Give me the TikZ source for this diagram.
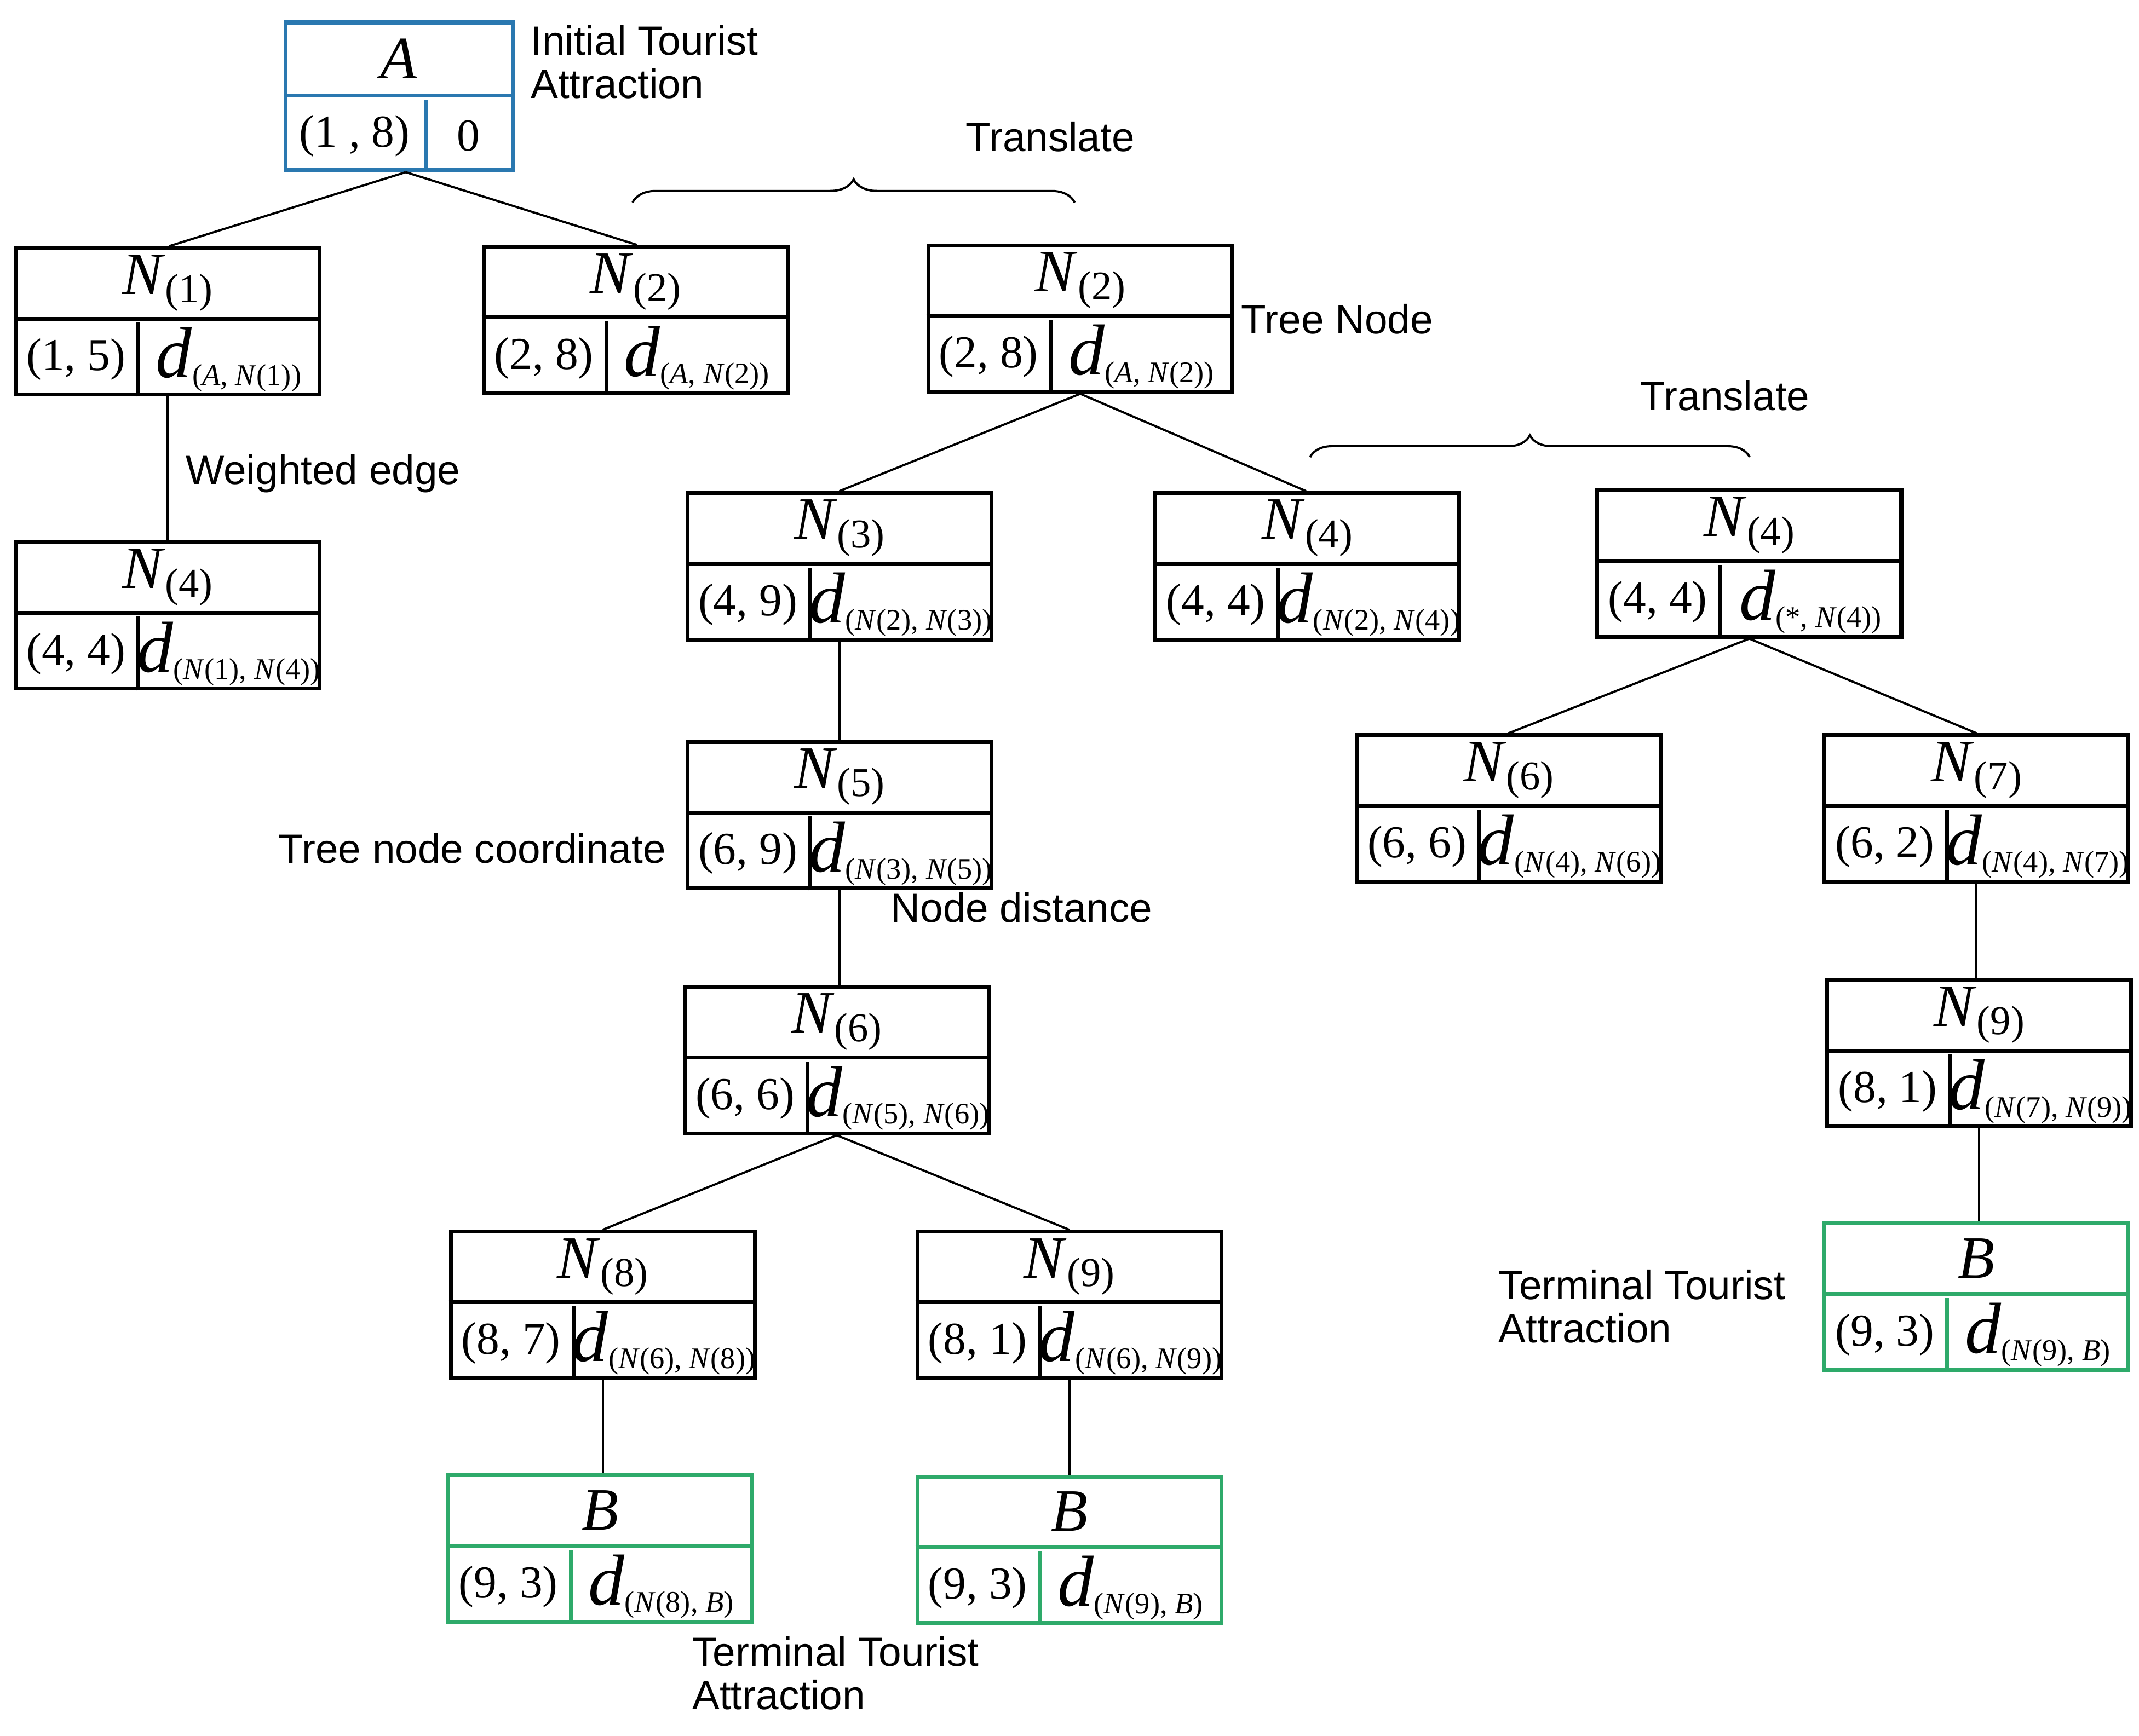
\documentclass[tikz,border=0pt]{standalone}
\usepackage{fontspec}
\setmainfont{Liberation Serif}
\newfontfamily\lab{Liberation Sans}
\usetikzlibrary{calc,decorations.pathreplacing}
\definecolor{bl}{HTML}{2A78B0}
\definecolor{gr}{HTML}{2EAA6A}
\tikzset{box/.style={draw,line width=0.8pt,minimum width=2.22cm,minimum height=1.07cm,inner sep=0pt},
 bw/.style={line width=0.8pt},
 ed/.style={line width=0.45pt},
 lb/.style={font=\lab\fontsize{8.5}{10}\selectfont,inner sep=0pt,align=left},
 ttl/.style={font=\fontsize{12.5}{14}\selectfont,inner sep=0pt},
 crd/.style={font=\fontsize{9.5}{11}\selectfont,inner sep=0pt}}
\newcommand\dd[1]{{\fontsize{15}{15}\selectfont\textit{d}}\raisebox{-0.35ex}{\fontsize{6.2}{7}\selectfont #1}}
\newcommand\NN[1]{\textit{N}\raisebox{-0.3ex}{\fontsize{8.5}{9}\selectfont(#1)}}
\newcommand\nn[1]{\textit{N}(#1)}
\newcommand\tnode[7]{%
\node[box,draw=#7,anchor=north west] (#1) at (#2*0.01,-#3*0.01) {};
\draw[#7,bw] ($(#1.north west)+(0,-0.53)$) -- ($(#1.north east)+(0,-0.53)$);
\draw[#7,bw] ($(#1.south west)+(0.91,0)$) -- ++(0,0.54);
\node[ttl] (#1t) at ($(#1.north)+(0,-0.27)$) {#4};
\node[crd] (#1c) at ($(#1.south west)+(0.455,0.27)$) {#5};
\node[crd] (#1d) at ($(#1.south west)+(1.57,0.27)$) {#6};}
\begin{document}
\begin{tikzpicture}
\useasboundingbox (0,0) rectangle (15.624,-12.68);
% A
\node[box,draw=bl,minimum width=1.66cm,minimum height=1.08cm,anchor=north west] (A) at (2.07,-0.15) {};
\draw[bl,bw] ($(A.north west)+(0,-0.55)$) -- ($(A.north east)+(0,-0.55)$);
\draw[bl,bw] ($(A.south west)+(1.04,0)$) -- ++(0,0.53);
\node[ttl] (At) at ($(A.north)+(0,-0.28)$) {\textit{A}};
\node[crd] (Ac) at ($(A.south west)+(0.52,0.265)$) {(1 , 8)};
\node[crd] (Ad) at ($(A.south west)+(1.35,0.265)$) {0};
\tnode{n1}{10}{180}{\NN{1}}{(1, 5)}{\dd{(\textit{A}, \nn{1})}}{black}
\tnode{n2a}{352}{179}{\NN{2}}{(2, 8)}{\dd{(\textit{A}, \nn{2})}}{black}
\tnode{n2b}{677}{178}{\NN{2}}{(2, 8)}{\dd{(\textit{A}, \nn{2})}}{black}
\tnode{n4a}{10}{395}{\NN{4}}{(4, 4)}{\dd{(\nn{1}, \nn{4})}}{black}
\tnode{n3}{501}{359}{\NN{3}}{(4, 9)}{\dd{(\nn{2}, \nn{3})}}{black}
\tnode{n4b}{843}{359}{\NN{4}}{(4, 4)}{\dd{(\nn{2}, \nn{4})}}{black}
\tnode{n4c}{1166}{357}{\NN{4}}{(4, 4)}{\dd{(*, \nn{4})}}{black}
\tnode{n5}{501}{541}{\NN{5}}{(6, 9)}{\dd{(\nn{3}, \nn{5})}}{black}
\tnode{n6a}{499}{720}{\NN{6}}{(6, 6)}{\dd{(\nn{5}, \nn{6})}}{black}
\tnode{n6b}{990}{536}{\NN{6}}{(6, 6)}{\dd{(\nn{4}, \nn{6})}}{black}
\tnode{n7}{1332}{536}{\NN{7}}{(6, 2)}{\dd{(\nn{4}, \nn{7})}}{black}
\tnode{n9a}{1334}{715}{\NN{9}}{(8, 1)}{\dd{(\nn{7}, \nn{9})}}{black}
\tnode{n8}{328}{899}{\NN{8}}{(8, 7)}{\dd{(\nn{6}, \nn{8})}}{black}
\tnode{n9b}{669}{899}{\NN{9}}{(8, 1)}{\dd{(\nn{6}, \nn{9})}}{black}
\tnode{b1}{326}{1077}{\textit{B}}{(9, 3)}{\dd{(\nn{8}, \textit{B})}}{gr}
\tnode{b2}{669}{1078}{\textit{B}}{(9, 3)}{\dd{(\nn{9}, \textit{B})}}{gr}
\tnode{b3}{1332}{893}{\textit{B}}{(9, 3)}{\dd{(\nn{9}, \textit{B})}}{gr}
% edges
\draw[ed] ($(A.south)+(0.05,0)$) -- ($(n1.north)+(0.01,0)$);
\draw[ed] ($(A.south)+(0.05,0)$) -- ($(n2a.north)+(0.01,0)$);
\draw[ed] (n1.south) -- (n4a.north);
\draw[ed] (n2b.south) -- (n3.north);
\draw[ed] (n2b.south) -- ($(n4b.north)+(-0.01,0)$);
\draw[ed] (n3.south) -- (n5.north);
\draw[ed] (n5.south) -- (n5.south |- n6a.north);
\draw[ed] (n6a.south) -- (n8.north);
\draw[ed] (n6a.south) -- (n9b.north);
\draw[ed] (n8.south) -- (n8.south |- b1.north);
\draw[ed] (n9b.south) -- (b2.north);
\draw[ed] (n4c.south) -- (n6b.north);
\draw[ed] (n4c.south) -- (n7.north);
\draw[ed] (n7.south) -- (n7.south |- n9a.north);
\draw[ed] (n9a.south) -- (n9a.south |- b3.north);
% braces
\coordinate (br1a) at (4.62,-1.48); \coordinate (br1b) at (7.85,-1.48);
\draw[ed,decorate,decoration={brace,amplitude=0.17cm}] (br1a) -- (br1b);
\coordinate (br2a) at (9.57,-3.34); \coordinate (br2b) at (12.78,-3.34);
\draw[ed,decorate,decoration={brace,amplitude=0.16cm}] (br2a) -- (br2b);
% labels
\node[lb,anchor=north west] (l1) at (3.87,-0.18) {Initial Tourist\\[-1pt]Attraction};
\node[lb] (l2) at (7.67,-1.0) {Translate};
\node[lb] (l3) at (12.6,-2.89) {Translate};
\node[lb,anchor=west] (l4) at (9.06,-2.33) {Tree Node};
\node[lb,anchor=west] (l5) at (1.35,-3.46) {Weighted edge};
\node[lb,anchor=east] (l6) at (4.87,-6.2) {Tree node coordinate};
\node[lb,anchor=west] (l7) at (6.5,-6.63) {Node distance};
\node[lb,anchor=north west] (l8) at (10.94,-9.27) {Terminal Tourist\\[-1pt]Attraction};
\node[lb,anchor=north west] (l9) at (5.05,-11.95) {Terminal Tourist\\[-1pt]Attraction};
\end{tikzpicture}
\end{document}
